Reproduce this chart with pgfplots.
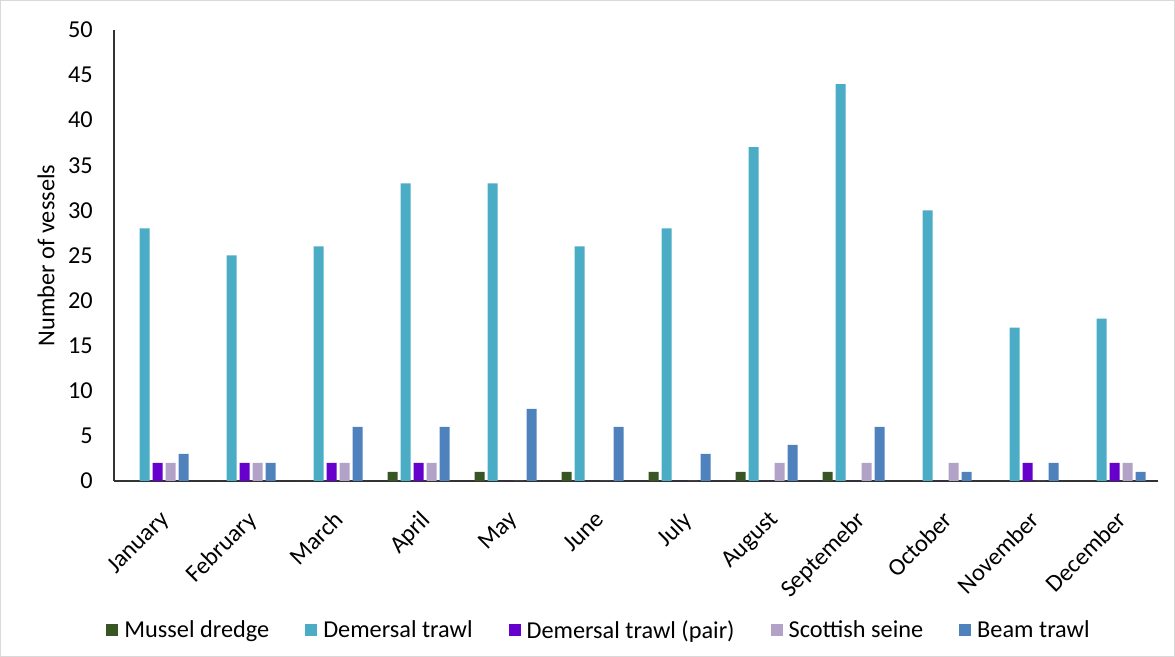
\documentclass[border=0pt]{standalone}
\usepackage{pgfplots}
\pgfplotsset{compat=1.18}
\usepackage{fontspec}
\setmainfont{Carlito}

\definecolor{mussel}{RGB}{55,86,35}
\definecolor{demersal}{RGB}{75,172,198}
\definecolor{pair}{RGB}{102,0,204}
\definecolor{seine}{RGB}{179,162,199}
\definecolor{beam}{RGB}{79,129,189}
\definecolor{frame}{RGB}{217,217,217}

% monthly vessel counts by gear type (x = month index 0..11)
\pgfplotstableread{
x  mussel demersal pair seine beam
0  0      28       2    2     3
1  0      25       2    2     2
2  0      26       2    2     6
3  1      33       2    2     6
4  1      33       0    0     8
5  1      26       0    0     6
6  1      28       0    0     3
7  1      37       0    2     4
8  1      44       0    2     6
9  0      30       0    2     1
10 0      17       2    0     2
11 0      18       2    2     1
}\vessels

\begin{document}
\begin{tikzpicture}[x=1bp,y=1bp]
\draw[frame, line width=1bp] (0.5,0.5) rectangle (1174.5,656.5);
\begin{axis}[
  at={(114bp,176bp)}, anchor=south west,
  scale only axis, width=1044bp, height=451bp,
  font=\fontsize{24.3bp}{29bp}\selectfont,
  /pgf/number format/assume math mode=true,
  xmin=-0.5, xmax=11.5, ymin=0, ymax=50,
  axis x line*=bottom, axis y line*=left,
  axis line style={black!80, line width=1.3bp},
  ytick={0,5,...,50}, major tick length=0pt,
  xtick={0,...,11},
  xticklabels={January,February,March,April,May,June,July,August,Septemebr,October,November,December},
  xticklabel style={rotate=45, anchor=north east, inner sep=0pt, xshift=-19bp, yshift=-21bp},
  yticklabel style={anchor=east, inner sep=0pt, xshift=-21bp},
  ylabel={Number of vessels},
  ylabel style={at={(axis description cs:-0.065,0.5)}, anchor=center},
  ybar, bar width=10bp,
  every axis plot/.append style={draw=none},
  legend style={draw=none, at={(axis description cs:0.4646,-0.331)}, anchor=center,
    legend columns=-1, font=\fontsize{24.3bp}{29bp}\selectfont,
    /tikz/every odd column/.append style={column sep=4bp},
    /tikz/every even column/.append style={column sep=34bp}},
  legend image code/.code={\fill[#1] (0bp,-6bp) rectangle (12bp,6bp);},
]
\addplot[fill=mussel, bar shift=-26bp] table[x=x,y=mussel] {\vessels};
\addplot[fill=demersal, bar shift=-13bp] table[x=x,y=demersal] {\vessels};
\addplot[fill=pair, bar shift=0bp] table[x=x,y=pair] {\vessels};
\addplot[fill=seine, bar shift=13bp] table[x=x,y=seine] {\vessels};
\addplot[fill=beam, bar shift=26bp] table[x=x,y=beam] {\vessels};
\legend{Mussel dredge, Demersal trawl, Demersal trawl (pair), Scottish seine, Beam trawl}
\end{axis}
\end{tikzpicture}
\end{document}
